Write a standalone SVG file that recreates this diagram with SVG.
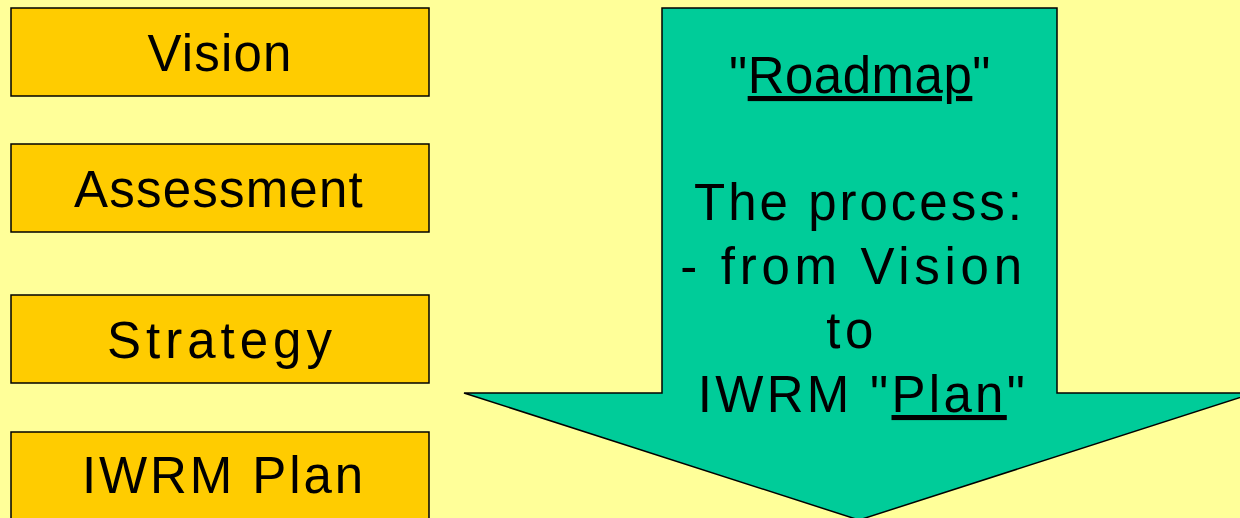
<svg xmlns="http://www.w3.org/2000/svg" width="1240" height="518" viewBox="0 0 1240 518">
<style>
.box{fill:#FFCC00;stroke:#000;stroke-width:1.5}
.lbl{font-family:"Liberation Sans",Arial,sans-serif;font-size:51px;fill:#000;text-anchor:middle}
.arr{fill:#00CC99;stroke:#000;stroke-width:1.5}
.atx{font-family:"Liberation Sans",Arial,sans-serif;font-size:51px;fill:#000;text-anchor:middle}
.u{text-decoration:underline}
</style>
<rect width="1240" height="518" fill="#FFFF99"/>
<g id="vision"><rect class="box" x="11" y="8" width="418" height="88"/><text class="lbl" x="220" y="71" letter-spacing="1.2">Vision</text></g>
<g id="assessment"><rect class="box" x="11" y="144" width="418" height="88"/><text class="lbl" x="219" y="207" letter-spacing="1.2">Assessment</text></g>
<g id="strategy"><rect class="box" x="11" y="295" width="418" height="88"/><text class="lbl" x="222" y="358" letter-spacing="5">Strategy</text></g>
<g id="iwrm-plan"><rect class="box" x="11" y="432" width="418" height="100"/><text class="lbl" x="224" y="493" letter-spacing="2.9">IWRM Plan</text></g>
<g id="roadmap-arrow">
<path class="arr" d="M662,8 L1057,8 L1057,393 L1254,393 L859,520 L464,393 L662,393 Z"/>
<text class="atx" x="860" y="93" letter-spacing="0.5">"<tspan class="u">Roadmap</tspan>"</text>
<text class="atx" x="859.5" y="220" letter-spacing="3">The process:</text>
<text class="atx" x="853.5" y="284" letter-spacing="4.7">- from Vision</text>
<text class="atx" x="852" y="348" letter-spacing="4.5">to</text>
<text class="atx" x="863" y="412" letter-spacing="3.3">IWRM "<tspan class="u">Plan</tspan>"</text>
</g>
<g id="connectors"></g>
</svg>
